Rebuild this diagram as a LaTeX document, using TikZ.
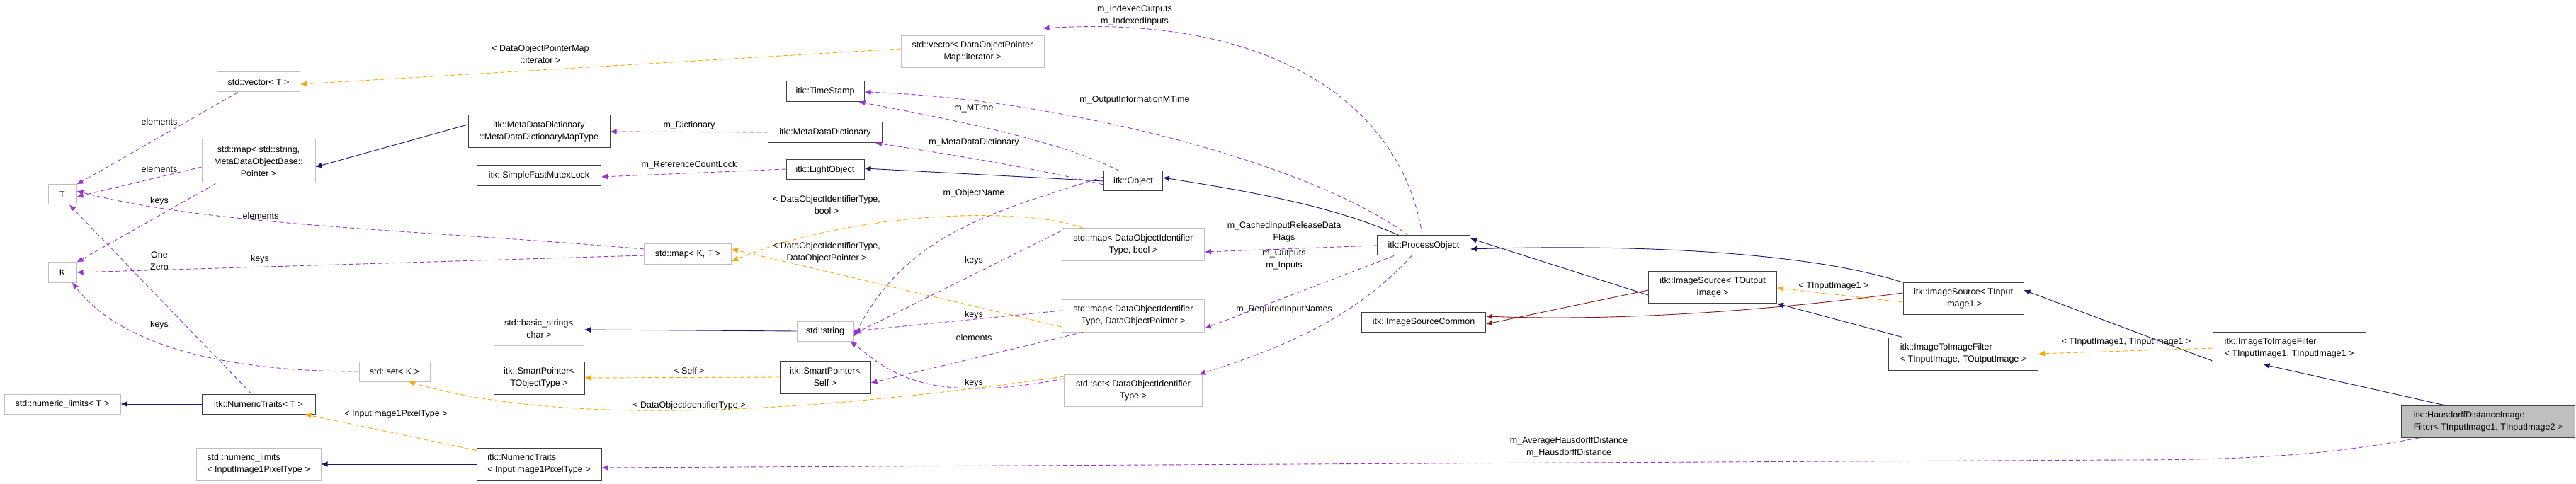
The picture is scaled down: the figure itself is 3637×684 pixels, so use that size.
\documentclass[tikz,border=0pt]{standalone}
\usepackage{fontspec}
\setmainfont{Liberation Sans}
\usetikzlibrary{arrows.meta}
\definecolor{cpur}{HTML}{9A32CD}
\definecolor{corg}{HTML}{FFA500}
\definecolor{cblu}{HTML}{191970}
\definecolor{cred}{HTML}{8B1A1A}
\definecolor{cgrb}{HTML}{BFBFBF}
\definecolor{cdkb}{HTML}{404040}
\begin{document}
\begin{tikzpicture}[x=1pt,y=-1pt,
  every node/.style={font=\fontsize{12.5}{17}\selectfont, inner sep=0pt},
  ext/.style={draw=cgrb, line width=1pt, fill=white, align=center},
  doc/.style={draw=cdkb, line width=1pt, fill=white, align=center},
  use/.style={draw=cpur, dash pattern=on 6pt off 4pt, line width=0.9pt, -{Latex[length=9pt,width=8pt]}},
  tpl/.style={draw=corg, dash pattern=on 6pt off 4pt, line width=0.9pt, -{Latex[length=9pt,width=8pt]}},
  inh/.style={draw=cblu, line width=0.9pt, -{Latex[length=9pt,width=8pt]}},
  prt/.style={draw=cred, line width=0.9pt, -{Latex[length=9pt,width=8pt]}},
  lb/.style={align=center}]
\useasboundingbox[fill=white] (0,0) rectangle (3637,684);
% nodes
\node[ext,minimum width=40pt,minimum height=28pt] (T) at (88,275) {T};
\node[ext,minimum width=40pt,minimum height=28pt] (K) at (88,385) {K};
\node[ext,minimum width=117pt,minimum height=28pt] (vecT) at (365,116) {std::vector< T >};
\node[ext,minimum width=160pt,minimum height=62pt] (mapS) at (365,228) {std::map< std::string,\\ MetaDataObjectBase::\\Pointer >};
\node[ext,minimum width=100pt,minimum height=28pt] (setK) at (557,525) {std::set< K >};
\node[ext,minimum width=164pt,minimum height=28pt] (nlT) at (88,571) {std::numeric\_limits< T >};
\node[doc,minimum width=160pt,minimum height=28pt] (ntT) at (365,571) {itk::NumericTraits< T >};
\node[ext,minimum width=176pt,minimum height=46pt,align=left] (nlP) at (365,656) {std::numeric\_limits\\< InputImage1PixelType >};
\node[doc,minimum width=176pt,minimum height=46pt,align=left] (ntP) at (761,656) {itk::NumericTraits\\< InputImage1PixelType >};
\node[doc,minimum width=200pt,minimum height=46pt] (mdmt) at (761,186) {itk::MetaDataDictionary\\::MetaDataDictionaryMapType};
\node[doc,minimum width=175pt,minimum height=29pt] (mutex) at (761,248) {itk::SimpleFastMutexLock};
\node[ext,minimum width=127pt,minimum height=46pt] (bstr) at (761,465) {std::basic\_string<\\char >};
\node[doc,minimum width=128pt,minimum height=46pt] (spT) at (761,534) {itk::SmartPointer<\\TObjectType >};
\node[doc,minimum width=110pt,minimum height=29pt] (ts) at (1165,129) {itk::TimeStamp};
\node[doc,minimum width=161pt,minimum height=29pt] (mdd) at (1165,187) {itk::MetaDataDictionary};
\node[doc,minimum width=110pt,minimum height=28pt] (lo) at (1165,240) {itk::LightObject};
\node[ext,minimum width=202pt,minimum height=45pt] (vecI) at (1373,73) {std::vector< DataObjectPointer\\Map::iterator >};
\node[ext,minimum width=123pt,minimum height=29pt] (mapKT) at (971,359) {std::map< K, T >};
\node[ext,minimum width=80pt,minimum height=28pt] (str) at (1165,468) {std::string};
\node[doc,minimum width=128pt,minimum height=46pt] (spS) at (1165,533) {itk::SmartPointer<\\Self >};
\node[doc,minimum width=83pt,minimum height=28pt] (obj) at (1600,256) {itk::Object};
\node[ext,minimum width=201pt,minimum height=46pt] (mapB) at (1600,346) {std::map< DataObjectIdentifier\\Type, bool >};
\node[ext,minimum width=201pt,minimum height=46pt] (mapP) at (1600,446) {std::map< DataObjectIdentifier\\Type, DataObjectPointer >};
\node[ext,minimum width=195pt,minimum height=45pt] (setD) at (1600,552) {std::set< DataObjectIdentifier\\Type >};
\node[doc,minimum width=131pt,minimum height=28pt] (po) at (2010,347) {itk::ProcessObject};
\node[doc,minimum width=175pt,minimum height=28pt] (isc) at (2010,455) {itk::ImageSourceCommon};
\node[doc,minimum width=181pt,minimum height=45pt] (isO) at (2418,406) {itk::ImageSource< TOutput\\Image >};
\node[doc,minimum width=170pt,minimum height=45pt] (isI) at (2772,422) {itk::ImageSource< TInput\\Image1 >};
\node[doc,minimum width=211pt,minimum height=46pt,align=left] (itiO) at (2772,500) {itk::ImageToImageFilter\\< TInputImage, TOutputImage >};
\node[doc,minimum width=216pt,minimum height=45pt,align=left] (itiI) at (3232,492) {itk::ImageToImageFilter\\< TInputImage1, TInputImage1 >};
\node[doc,fill={rgb,255:red,191;green,191;blue,191},minimum width=245pt,minimum height=45pt,align=left] (hd) at (3513,596) {itk::HausdorffDistanceImage\\Filter< TInputImage1, TInputImage2 >};
% edges
\draw[use] (vecT.south west)++(30,0) -- (T.north east);
\draw[use] (mapS.west) ++(0,8) -- ([yshift=-3pt]T.east);
\draw[use] ([xshift=20pt]mapS.south west) -- (K.north east);
\draw[use] (mapKT.west) ++(0,-7) .. controls (600,325) and (300,320) .. ([yshift=5pt]T.east);
\draw[use] (mapKT.west) ++(0,2) -- (K.east);
\draw[use] (setK.west) .. controls (350,525) and (180,500) .. ([xshift=14pt]K.south);
\draw[use] ([xshift=-10pt]ntT.north) -- ([xshift=10pt]T.south);
\draw[inh] (ntT.west) -- (nlT.east);
\draw[tpl] ([yshift=-4pt]ntP.north west) -- ([xshift=-15pt]ntT.south east);
\draw[inh] (ntP.west) -- (nlP.east);
\draw[inh] ([yshift=10pt]mdmt.west) -- ([yshift=-8pt]mapS.east);
\draw[tpl] ([yshift=4pt]vecI.west) -- ([yshift=-3pt]vecT.east);
\draw[use] (mdd.west) -- (mdmt.east);
\draw[use] ([yshift=1pt]lo.west) -- ([yshift=-2pt]mutex.east);
\draw[use] ([xshift=-20pt]obj.north) .. controls (1500,200) and (1350,170) .. ([xshift=-8pt]ts.south east);
\draw[use] ([yshift=-5pt]obj.west) .. controls (1450,235) and (1320,215) .. ([xshift=-10pt]mdd.south east);
\draw[inh] (obj.west) -- ([yshift=2pt]lo.east);
\draw[use] ([yshift=6pt]obj.west) .. controls (1400,300) and (1280,330) .. ([yshift=-8pt]str.east);
\draw[tpl] ([xshift=-70pt]mapB.north) .. controls (1440,290) and (1200,300) .. ([yshift=-10pt]mapKT.east);
\draw[tpl] ([yshift=-16pt]mapP.west) -- ([yshift=7pt]mapKT.east);
\draw[use] ([yshift=20pt]mapB.west) -- ([yshift=-4pt]str.east);
\draw[use] ([yshift=7pt]mapP.west) -- (str.east);
\draw[use] ([xshift=30pt]mapP.south west) -- ([yshift=-8pt]spS.east);
\draw[use] ([yshift=17pt]setD.west) .. controls (1300,575) and (1250,520) .. ([xshift=-5pt]str.south east);
\draw[tpl] ([yshift=20pt]setD.west) .. controls (1200,575) and (820,610) .. ([xshift=20pt]setK.south);
\draw[inh] (str.west) -- ([yshift=-1pt]bstr.east);
\draw[tpl] (spS.west) -- (spT.east);
\draw[use] ([xshift=-22pt]po.north) .. controls (1850,230) and (1500,140) .. ([yshift=-1pt]ts.east);
\draw[use] ([xshift=-2pt]po.north) .. controls (1980,150) and (1800,20) .. ([xshift=-2pt,yshift=10pt]vecI.north east);
\draw[inh] ([xshift=-35pt]po.north) .. controls (1880,290) and (1760,270) .. ([yshift=5pt]obj.east);
\draw[use] (po.west) -- ([yshift=-10pt]mapB.east);
\draw[use] ([xshift=-42pt]po.south) -- ([yshift=-18pt]mapP.east);
\draw[use] ([xshift=-17pt]po.south) .. controls (1930,430) and (1850,480) .. ([xshift=-5pt]setD.north east);
\draw[inh] ([yshift=-11pt]isO.west) -- ([yshift=10pt]po.east);
\draw[inh] (isI.north west) .. controls (2550,355) and (2300,345) .. ([yshift=-5pt]po.east);
\draw[prt] ([yshift=-4pt]isO.west) -- ([yshift=-3pt]isc.east);
\draw[prt] ([yshift=8pt]isI.west) .. controls (2450,445) and (2250,453) .. ([yshift=8pt]isc.east);
\draw[tpl] ([yshift=-5pt]isI.west) -- ([yshift=-1pt]isO.east);
\draw[inh] ([xshift=20pt]itiO.north west) -- (isO.south east);
\draw[inh] ([yshift=-18pt]itiI.west) -- ([yshift=12pt]isI.east);
\draw[tpl] (itiI.west) -- (itiO.east);
\draw[inh] ([xshift=-60pt]hd.north) -- ([xshift=72pt]itiI.south west);
\draw[use] ([xshift=25pt]hd.south west) .. controls (3300,640) and (3200,650) .. (3000,650) -- ([yshift=-5pt]ntP.east);
% labels
\node[lb] (l1) at (225,172) {elements};
\node[lb] (l2) at (225,239) {elements};
\node[lb] (l3) at (225,284) {keys};
\node[lb] (l4) at (368,305) {elements};
\node[lb] (l5) at (225,369) {One\\Zero};
\node[lb] (l6) at (367,366) {keys};
\node[lb] (l7) at (225,459) {keys};
\node[lb] (l8) at (559,585) {< InputImage1PixelType >};
\node[lb] (l9) at (763,77) {< DataObjectPointerMap\\::iterator >};
\node[lb] (l10) at (973,177) {m\_Dictionary};
\node[lb] (l11) at (973,233) {m\_ReferenceCountLock};
\node[lb] (l12) at (1375,153) {m\_MTime};
\node[lb] (l13) at (1375,201) {m\_MetaDataDictionary};
\node[lb] (l14) at (1375,273) {m\_ObjectName};
\node[lb] (l15) at (1167,290) {< DataObjectIdentifierType,\\bool >};
\node[lb] (l16) at (1167,357) {< DataObjectIdentifierType,\\DataObjectPointer >};
\node[lb] (l17) at (1375,368) {keys};
\node[lb] (l18) at (1375,445) {keys};
\node[lb] (l19) at (1375,477) {elements};
\node[lb] (l20) at (1375,541) {keys};
\node[lb] (l21) at (973,524) {< Self >};
\node[lb] (l22) at (973,573) {< DataObjectIdentifierType >};
\node[lb] (l23) at (1602,22) {m\_IndexedOutputs\\m\_IndexedInputs};
\node[lb] (l24) at (1602,141) {m\_OutputInformationMTime};
\node[lb] (l25) at (1813,328) {m\_CachedInputReleaseData\\Flags};
\node[lb] (l26) at (1813,367) {m\_Outputs\\m\_Inputs};
\node[lb] (l27) at (1813,437) {m\_RequiredInputNames};
\node[lb] (l28) at (2589,404) {< TInputImage1 >};
\node[lb] (l29) at (3002,483) {< TInputImage1, TInputImage1 >};
\node[lb] (l30) at (2215,632) {m\_AverageHausdorffDistance\\m\_HausdorffDistance};
\end{tikzpicture}
\end{document}
